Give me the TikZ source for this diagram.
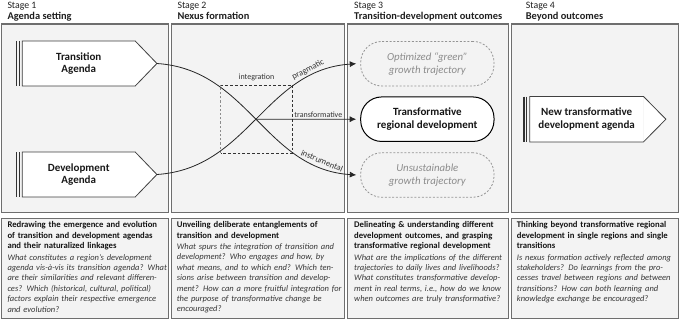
\documentclass[tikz,border=0pt]{standalone}
\usepackage{fontspec}
\setmainfont{Carlito}
\usetikzlibrary{arrows.meta,intersections}
\definecolor{panelfill}{HTML}{F3F3F3}
\definecolor{panelline}{HTML}{6E6E6E}
\definecolor{shapeline}{HTML}{404040}
\definecolor{bodytext}{HTML}{363636}
\definecolor{softgray}{HTML}{8C8C8C}
\newcommand\qj[1]{\makebox[\hsize][s]{#1}}
\begin{document}
\begin{tikzpicture}[x=1pt,y=-1pt,
  panel/.style={draw=panelline, line width=1.1pt, fill=panelfill},
  hdr/.style={anchor=base west, inner sep=0pt, text=black!88, font=\fontsize{9.8}{11}\selectfont},
  hdrb/.style={hdr, font=\fontsize{10.4}{11}\selectfont\bfseries},
  agtext/.style={fill=white, inner sep=0pt, align=center, text=black!90, font=\fontsize{11}{12.7}\selectfont\bfseries},
  agline/.style={draw=shapeline, line width=0.8pt, line join=miter},
  agbar/.style={draw=black!80, line width=1.4pt},
  outc/.style={minimum width=133.3pt, minimum height=44.5pt, rounded corners=21pt, align=center, inner sep=0pt},
  outdash/.style={outc, draw=black!42, dash pattern=on 2pt off 1.7pt, line width=0.8pt, text=softgray, font=\fontsize{10.8}{13}\selectfont\itshape},
  outsolid/.style={outc, draw=black, fill=white, line width=1pt, text=black!92, font=\fontsize{11}{13.3}\selectfont\bfseries},
  conn/.style={draw=black!85, line width=0.8pt, -{Latex[length=6.5pt,width=6pt]}},
  lbl/.style={font=\fontsize{8}{9}\selectfont, text=black!80},
  slbl/.style={font=\fontsize{8.6}{9}\selectfont, text=black!80, sloped, above, inner sep=2.8pt},
  qbox/.style={draw=panelline, line width=1.1pt, fill=panelfill},
  qtext/.style={anchor=north west, inner sep=0pt, align=left, text=bodytext, font=\fontsize{8.5}{10.4}\selectfont}
]
\useasboundingbox (0,0) rectangle (680,321);

% panels
\draw[panel] (1.5,24) rectangle (168.3,212.7);
\draw[panel] (171.2,24) rectangle (344.5,212.7);
\draw[panel] (347.5,24) rectangle (508.3,212.7);
\draw[panel] (511.3,24) rectangle (678.6,212.7);

% headers
\node[hdr]  (h1)  at (7.3,8.5)  {Stage 1};
\node[hdrb] (h1b) at (7.3,19.4) {Agenda setting};
\node[hdr]  (h2)  at (177.3,8.5)  {Stage 2};
\node[hdrb] (h2b) at (177.3,19.4) {Nexus formation};
\node[hdr]  (h3)  at (354,8.5)  {Stage 3};
\node[hdrb] (h3b) at (354,19.4) {Transition-development outcomes};
\node[hdr]  (h4)  at (525.7,8.5)  {Stage 4};
\node[hdrb] (h4b) at (525.7,19.4) {Beyond outcomes};

% agendas
\node[agtext, minimum width=112.5pt, minimum height=44.6pt] (ta) at (78.75,63.5) {Transition\\Agenda};
\coordinate (tatip) at ([xshift=21.7pt]ta.east);
\fill[white] (ta.north east) -- (tatip) -- (ta.south east) -- cycle;
\draw[agline] (ta.north west) -- (ta.north east) -- (tatip) -- (ta.south east) -- (ta.south west) -- cycle;
\draw[agbar] ([xshift=-5.8pt]ta.north west) -- ([xshift=-5.8pt]ta.south west);
\draw[agbar] ([xshift=-3.1pt]ta.north west) -- ([xshift=-3.1pt]ta.south west);

\node[agtext, minimum width=112.5pt, minimum height=44.6pt] (da) at (78.75,174.5) {Development\\Agenda};
\coordinate (datip) at ([xshift=21.7pt]da.east);
\fill[white] (da.north east) -- (datip) -- (da.south east) -- cycle;
\draw[agline] (da.north west) -- (da.north east) -- (datip) -- (da.south east) -- (da.south west) -- cycle;
\draw[agbar] ([xshift=-5.8pt]da.north west) -- ([xshift=-5.8pt]da.south west);
\draw[agbar] ([xshift=-3.1pt]da.north west) -- ([xshift=-3.1pt]da.south west);

\node[agtext, minimum width=113.3pt, minimum height=45pt] (na) at (586.65,119.2) {New transformative\\development agenda};
\coordinate (natip) at ([xshift=22.4pt]na.east);
\fill[white] (na.north east) -- (natip) -- (na.south east) -- cycle;
\draw[agline] (na.north west) -- (na.north east) -- (natip) -- (na.south east) -- (na.south west) -- cycle;
\draw[agbar] ([xshift=-5.8pt]na.north west) -- ([xshift=-5.8pt]na.south west);
\draw[agbar] ([xshift=-3.1pt]na.north west) -- ([xshift=-3.1pt]na.south west);

% outcomes
\node[outdash]  (optim)  at (427.35,63.7)  {Optimized “green”\\growth trajectory};
\node[outsolid] (trans)  at (427.35,119.2) {Transformative\\regional development};
\node[outdash]  (unsust) at (427.35,175)   {Unsustainable\\growth trajectory};

% integration box
\node[minimum width=71.6pt, minimum height=67.4pt, inner sep=0pt] (integ) at (256.5,119.1) {};
\draw[black!45, line width=0.8pt, dash pattern=on 2.3pt off 1.9pt] (integ.south west) -- (integ.north west);
\draw[black!80, line width=0.8pt, dash pattern=on 2.8pt off 2pt] (integ.north west) -- (integ.north east) -- (integ.south east) -- (integ.south west);
\node[lbl, anchor=base, inner sep=0pt] (intlbl) at ([yshift=5.8pt]integ.north) {integration};

% connectors
\draw[conn, name path=ca] (tatip) .. controls (248.7,69.5) and (264.7,169) .. ([xshift=-4pt]unsust.west)
  node[slbl, pos=0.85] {instrumental};
\draw[conn, name path=cb] (datip) .. controls (248.7,168.5) and (264.7,69.7) .. ([xshift=-4pt]optim.west)
  node[slbl, pos=0.81] {pragmatic};
\path[name intersections={of=ca and cb, by=cross}];
\draw[conn] (cross) -- ([xshift=-4pt]trans.west)
  node[lbl, above, pos=0.62, inner sep=1.2pt] {transformative};

% bottom boxes
\draw[qbox] (1.5,218.3) rectangle (168.3,318.6);
\draw[qbox] (171.2,218.3) rectangle (344.5,318.6);
\draw[qbox] (347.5,218.3) rectangle (508.3,318.6);
\draw[qbox] (511.3,218.3) rectangle (678.6,318.6);

\node[qtext, text width=158.7pt] (q1) at (7.3,221.4) {%
{\color{black!92}\bfseries\fontsize{8.7}{10.5}\selectfont \mbox{Redrawing the emergence and evolution}\\\mbox{of transition and development agendas}\\\mbox{and their naturalized linkages}}\\[1pt]
{\itshape
\qj{What constitutes a region’s development}\\
\qj{agenda vis-à-vis its transition agenda? What}\\
\qj{are their similarities and relevant differen-}\\
\qj{ces? Which (historical, cultural, political)}\\
\qj{factors explain their respective emergence}\\
and evolution?}};

\node[qtext, text width=165pt] (q2) at (176.7,221.4) {%
{\color{black!92}\bfseries\fontsize{8.7}{10.5}\selectfont \mbox{Unveiling deliberate entanglements of}\\\mbox{transition and development}}\\[1pt]
{\itshape
\qj{What spurs the integration of transition and}\\
\qj{development? Who engages and how, by}\\
\qj{what means, and to which end? Which ten-}\\
\qj{sions arise between transition and develop-}\\
\qj{ment? How can a more fruitful integration for}\\
\qj{the purpose of transformative change be}\\
encouraged?}};

\node[qtext, text width=152.7pt] (q3) at (354,221.4) {%
{\color{black!92}\bfseries\fontsize{8.7}{10.5}\selectfont \mbox{Delineating \& understanding different}\\\mbox{development outcomes, and grasping}\\\mbox{transformative regional development}}\\[1pt]
{\itshape
\qj{What are the implications of the different}\\
\qj{trajectories to daily lives and livelihoods?}\\
\qj{What constitutes transformative develop-}\\
\qj{ment in real terms, i.e., how do we know}\\
\qj{when outcomes are truly transformative?}}};

\node[qtext, text width=154.3pt] (q4) at (516.7,221.4) {%
{\color{black!92}\bfseries\fontsize{8.7}{10.5}\selectfont \mbox{Thinking beyond transformative regional}\\\mbox{development in single regions and single}\\\mbox{transitions}}\\[1pt]
{\itshape
\qj{Is nexus formation actively reflected among}\\
\qj{stakeholders? Do learnings from the pro-}\\
\qj{cesses travel between regions and between}\\
\qj{transitions? How can both learning and}\\
knowledge exchange be encouraged?}};
\end{tikzpicture}
\end{document}
